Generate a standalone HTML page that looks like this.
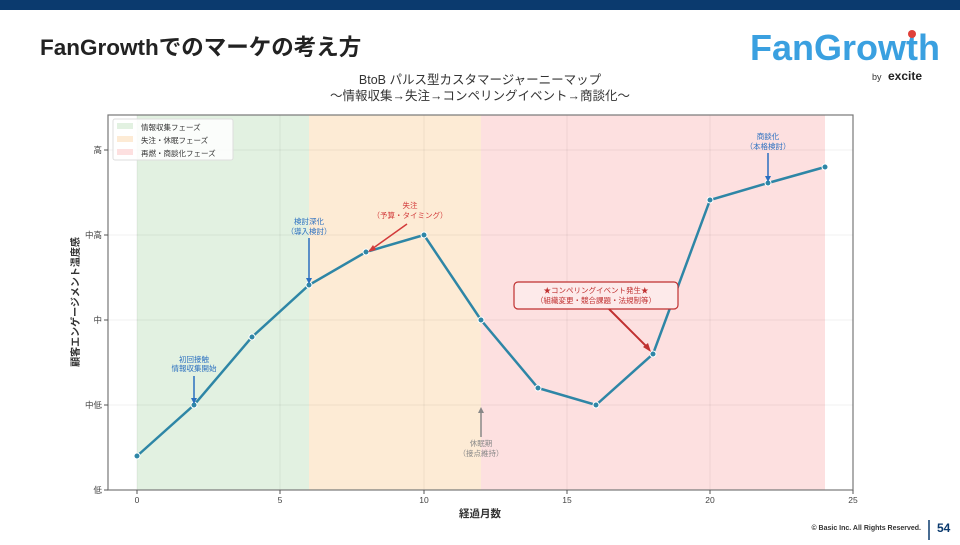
<!DOCTYPE html>
<html><head><meta charset="utf-8"><style>
body{margin:0;width:960px;height:540px;overflow:hidden;background:#fff;font-family:"Liberation Sans","Noto Sans CJK JP",sans-serif;}
svg text{font-family:"Liberation Sans","Noto Sans CJK JP",sans-serif;}
</style></head><body>
<svg width="960" height="540" xmlns="http://www.w3.org/2000/svg">
<rect x="0" y="0" width="960" height="10" fill="#0b3a6e"/>
<text x="40" y="55" font-size="22.5" font-weight="bold" fill="#222">FanGrowthでのマーケの考え方</text>
<text x="750" y="60" font-size="36" font-weight="bold" fill="#3aa0e0" textLength="190" lengthAdjust="spacingAndGlyphs">FanGrowth</text>
<circle cx="912" cy="34" r="4" fill="#e0403a"/>
<text x="872" y="80" font-size="9" fill="#333">by</text>
<text x="888" y="80" font-size="12" font-weight="bold" fill="#222">excite</text>
<text x="480" y="84" font-size="12.5" fill="#333" text-anchor="middle">BtoB パルス型カスタマージャーニーマップ</text>
<text x="480" y="100" font-size="12.5" fill="#333" text-anchor="middle">～情報収集→失注→コンペリングイベント→商談化～</text>
<rect x="137" y="115" width="172" height="375" fill="#e2f1e1"/>
<rect x="309" y="115" width="172" height="375" fill="#fdebd5"/>
<rect x="481" y="115" width="344" height="375" fill="#fde0e0"/>
<g stroke="#000" stroke-opacity="0.06" stroke-width="1">
<line x1="108" x2="853" y1="150" y2="150"/><line x1="108" x2="853" y1="235" y2="235"/>
<line x1="108" x2="853" y1="320" y2="320"/><line x1="108" x2="853" y1="405" y2="405"/>
<line x1="137" x2="137" y1="115" y2="490"/><line x1="280" x2="280" y1="115" y2="490"/>
<line x1="424" x2="424" y1="115" y2="490"/><line x1="567" x2="567" y1="115" y2="490"/>
<line x1="710" x2="710" y1="115" y2="490"/>
</g>
<rect x="108" y="115" width="745" height="375" fill="none" stroke="#777" stroke-width="1.2"/>
<g font-size="8.5" fill="#444" text-anchor="end">
<text x="102" y="153">高</text><text x="102" y="238">中高</text><text x="102" y="323">中</text><text x="102" y="408">中低</text><text x="102" y="493">低</text>
</g>
<g stroke="#555"><line x1="104" x2="108" y1="150" y2="150"/><line x1="104" x2="108" y1="235" y2="235"/><line x1="104" x2="108" y1="320" y2="320"/><line x1="104" x2="108" y1="405" y2="405"/><line x1="104" x2="108" y1="490" y2="490"/>
<line x1="137" x2="137" y1="490" y2="494"/><line x1="280" x2="280" y1="490" y2="494"/><line x1="424" x2="424" y1="490" y2="494"/><line x1="567" x2="567" y1="490" y2="494"/><line x1="710" x2="710" y1="490" y2="494"/><line x1="853" x2="853" y1="490" y2="494"/></g>
<g font-size="8.5" fill="#444" text-anchor="middle">
<text x="137" y="503">0</text><text x="280" y="503">5</text><text x="424" y="503">10</text><text x="567" y="503">15</text><text x="710" y="503">20</text><text x="853" y="503">25</text>
</g>
<text x="480" y="517" font-size="10.5" font-weight="bold" fill="#333" text-anchor="middle">経過月数</text>
<text transform="translate(79,302) rotate(-90)" font-size="10" font-weight="bold" fill="#333" text-anchor="middle">顧客エンゲージメント温度感</text>
<rect x="113" y="119" width="120" height="41" fill="#fff" fill-opacity="0.85" stroke="#ddd" rx="2"/>
<rect x="117" y="123" width="16" height="6" fill="#e2f1e1"/><text x="141" y="130" font-size="7.5" fill="#333">情報収集フェーズ</text>
<rect x="117" y="136" width="16" height="6" fill="#fdebd5"/><text x="141" y="143" font-size="7.5" fill="#333">失注・休眠フェーズ</text>
<rect x="117" y="149" width="16" height="6" fill="#fde0e0"/><text x="141" y="156" font-size="7.5" fill="#333">再燃・商談化フェーズ</text>
<polyline fill="none" stroke="#2e86a6" stroke-width="2.5" points="137,456 194,405 252,337 309,285 366,252 424,235 481,320 538,388 596,405 653,354 710,200 768,183 825,167"/>
<g fill="#2e86a6" stroke="#fff" stroke-width="1">
<circle cx="137" cy="456" r="3"/><circle cx="194" cy="405" r="3"/><circle cx="252" cy="337" r="3"/><circle cx="309" cy="285" r="3"/><circle cx="366" cy="252" r="3"/><circle cx="424" cy="235" r="3"/><circle cx="481" cy="320" r="3"/><circle cx="538" cy="388" r="3"/><circle cx="596" cy="405" r="3"/><circle cx="653" cy="354" r="3"/><circle cx="710" cy="200" r="3"/><circle cx="768" cy="183" r="3"/><circle cx="825" cy="167" r="3"/>
</g>
<g font-size="7.5" text-anchor="middle">
<g fill="#2a6fc0"><text x="194" y="362">初回接触</text><text x="194" y="371">情報収集開始</text>
<text x="309" y="224">検討深化</text><text x="309" y="234">（導入検討）</text>
<text x="768" y="139">商談化</text><text x="768" y="149">（本格検討）</text></g>
<g stroke="#2a6fc0" stroke-width="1.5"><line x1="194" y1="376" x2="194" y2="400"/><line x1="309" y1="238" x2="309" y2="280"/><line x1="768" y1="153" x2="768" y2="178"/></g>
<g fill="#2a6fc0"><path d="M191,398 L197,398 L194,404Z"/><path d="M306,278 L312,278 L309,284Z"/><path d="M765,176 L771,176 L768,182Z"/></g>
<g fill="#d23a3a"><text x="410" y="208">失注</text><text x="410" y="218">（予算・タイミング）</text></g>
<line x1="407" y1="224" x2="372" y2="249" stroke="#d23a3a" stroke-width="1.5"/><path d="M368,252 L373,245 L376,250Z" fill="#d23a3a"/>
<g fill="#888"><text x="481" y="446">休眠期</text><text x="481" y="456">（接点維持）</text></g>
<line x1="481" y1="437" x2="481" y2="412" stroke="#888" stroke-width="1.5"/><path d="M478,413 L484,413 L481,407Z" fill="#888"/>
<rect x="514" y="282" width="164" height="27" rx="4" fill="#fdeaea" stroke="#c03030" stroke-width="1.2"/>
<g fill="#c03030"><text x="596" y="293">★コンペリングイベント発生★</text><text x="596" y="303">（組織変更・競合課題・法規制等）</text></g>
<line x1="609" y1="309" x2="648" y2="348" stroke="#c03030" stroke-width="2"/><path d="M651,352 L643,347 L648,343Z" fill="#c03030"/>
</g>
<text x="921" y="530" font-size="7" font-weight="bold" fill="#333" text-anchor="end">© Basic Inc. All Rights Reserved.</text>
<line x1="929" y1="520" x2="929" y2="540" stroke="#0b3a6e" stroke-width="1.5"/>
<text x="937" y="532" font-size="12" font-weight="bold" fill="#0b3a6e">54</text>
</svg>
</body></html>
